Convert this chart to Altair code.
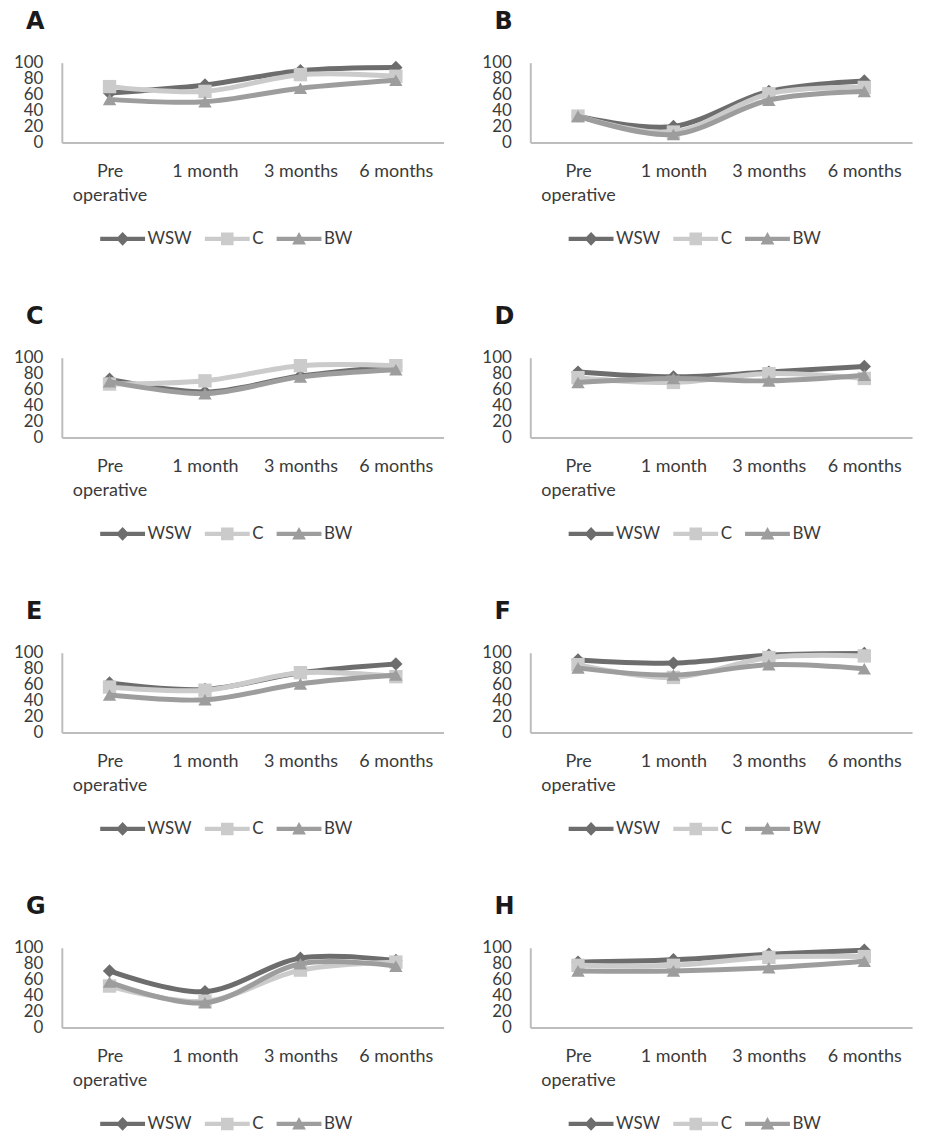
import altair as alt
import pandas as pd

# ---------------- data ----------------
TIMES = ["Pre operative", "1 month", "3 months", "6 months"]
SERIES = ["WSW", "C", "BW"]
PANELS = ["A", "B", "C", "D", "E", "F", "G", "H"]

A_WSW = [62, 72, 90, 94]
A_C = [70, 64, 85, 83]
A_BW = [54, 51, 68, 78]

B_WSW = [33, 20, 64, 77]
B_C = [33, 13, 61, 69]
B_BW = [33, 10, 53, 64]

C_WSW = [73, 57, 77, 89]
C_C = [67, 71, 90, 90]
C_BW = [70, 55, 76, 85]

D_WSW = [82, 76, 82, 89]
D_C = [75, 69, 80, 74]
D_BW = [69, 74, 71, 78]

E_WSW = [62, 54, 75, 86]
E_C = [57, 53, 75, 70]
E_BW = [47, 41, 61, 72]

F_WSW = [91, 87, 97, 99]
F_C = [85, 69, 94, 96]
F_BW = [81, 72, 85, 80]

G_WSW = [71, 45, 87, 84]
G_C = [52, 33, 72, 82]
G_BW = [57, 31, 80, 77]

H_WSW = [82, 85, 92, 97]
H_C = [78, 78, 88, 89]
H_BW = [71, 71, 75, 83]

PANEL_DATA = {
    "A": (A_WSW, A_C, A_BW), "B": (B_WSW, B_C, B_BW),
    "C": (C_WSW, C_C, C_BW), "D": (D_WSW, D_C, D_BW),
    "E": (E_WSW, E_C, E_BW), "F": (F_WSW, F_C, F_BW),
    "G": (G_WSW, G_C, G_BW), "H": (H_WSW, H_C, H_BW),
}

# ---------------- style ----------------
COLORS = ["#6d6d6d", "#cbcbcb", "#9d9d9d"]
SHAPES = ["diamond", "square", "triangle-up"]
LEGEND_PATHS = [
    "M-1,-0.35H6.5V0.35H-1Z M2.75,-1.15L3.85,0L2.75,1.15L1.65,0Z",
    "M-1,-0.35H6.5V0.35H-1Z M1.7,-1.05H3.8V1.05H1.7Z",
    "M-1,-0.35H6.5V0.35H-1Z M2.75,-1.15L3.9,0.95H1.6Z",
]
TEXT = "#3a3a3a"
AXIS_GRAY = "#bdbdbd"
FONT = "Lato"
W, H = 383, 80


def panel(letter):
    vals = PANEL_DATA[letter]
    rows = []
    for s, v in zip(SERIES, vals):
        for t, val in zip(TIMES, v):
            rows.append({"time": t, "series": s, "value": val})
    df = pd.DataFrame(rows)
    base = alt.Chart(df)

    x = alt.X(
        "time:N",
        sort=TIMES,
        scale=alt.Scale(type="point", domain=TIMES, padding=0.5),
        axis=alt.Axis(
            title=None, labelAngle=0, ticks=False, grid=False,
            domainColor=AXIS_GRAY, domainWidth=2,
            labelFont=FONT, labelFontSize=18, labelColor=TEXT,
            labelPadding=20, labelLineHeight=24,
            labelExpr="datum.value == 'Pre operative' ? ['Pre', 'operative'] : datum.label",
        ),
    )
    y = alt.Y(
        "value:Q",
        scale=alt.Scale(domain=[0, 100], nice=False),
        axis=alt.Axis(
            title=None, values=[0, 20, 40, 60, 80, 100], ticks=False, grid=False,
            domainColor=AXIS_GRAY, domainWidth=2,
            labelFont=FONT, labelFontSize=17, labelColor=TEXT,
            labelPadding=19, labelOverlap=False, labelFlush=False,
        ),
    )

    layers = []
    for s, c, shp in zip(SERIES, COLORS, SHAPES):
        sub = base.transform_filter(alt.datum.series == s)
        layers.append(
            sub.mark_line(color=c, strokeWidth=5, interpolate="cardinal",
                          strokeCap="round", strokeJoin="round").encode(x=x, y=y)
        )
        layers.append(
            sub.mark_point(shape=shp, filled=True, size=180, opacity=1,
                           color=c, strokeWidth=0).encode(x=x, y=y)
        )

    leg = alt.Legend(
        title=None, orient="none", legendX=36, legendY=168,
        direction="horizontal", symbolSize=144, symbolStrokeWidth=0,
        symbolOpacity=1, labelFont=FONT, labelFontSize=17, labelColor=TEXT,
        labelOffset=33, columnPadding=10,
    )
    layers.append(
        base.transform_filter("false").mark_point(filled=True, opacity=1).encode(
            color=alt.Color("series:N", scale=alt.Scale(domain=SERIES, range=COLORS), legend=leg),
            shape=alt.Shape("series:N", scale=alt.Scale(domain=SERIES, range=LEGEND_PATHS), legend=leg),
        )
    )

    return alt.layer(*layers).properties(
        width=W, height=H,
        title=alt.TitleParams(
            text=letter, anchor="start", frame="group", dx=-36,
            font="DejaVu Sans", fontSize=24, fontWeight="bold", color="#1a1a1a",
            baseline="alphabetic", offset=1,
        ),
    )


rows = []
for i in range(0, 8, 2):
    rows.append(
        alt.hconcat(panel(PANELS[i]), panel(PANELS[i + 1]), spacing=38)
        .resolve_scale(color="independent", shape="independent")
        .resolve_legend(color="independent", shape="independent")
    )

chart = (
    alt.vconcat(*rows, spacing=58)
    .resolve_scale(color="independent", shape="independent")
    .resolve_legend(color="independent", shape="independent")
    .properties(
        padding={"left": 5, "top": 0, "right": 5, "bottom": 5},
        background="white",
    )
    .configure_view(strokeWidth=0, stroke="transparent")
)

chart.save("out.html", embed_options={"renderer": "svg", "actions": False})
